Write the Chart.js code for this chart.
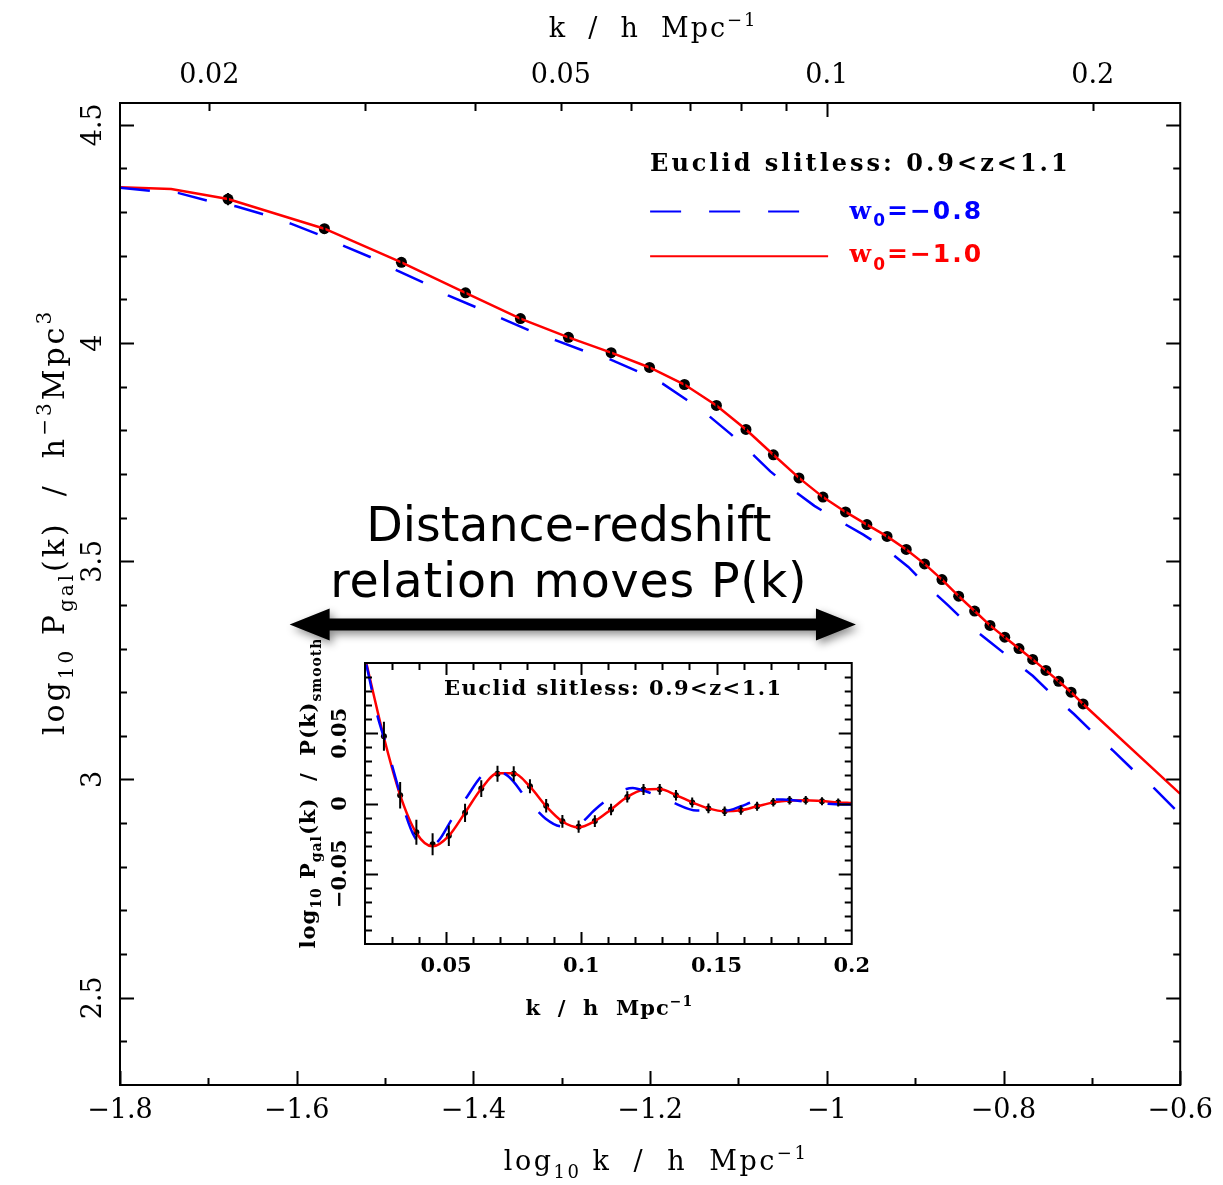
<!DOCTYPE html>
<html>
<head>
<meta charset="utf-8">
<script src="https://cdn.jsdelivr.net/npm/chart.js@4.4.1/dist/chart.umd.min.js"></script>
<style>
  html, body { margin: 0; padding: 0; background: #fff; }
  #wrap { position: relative; width: 1223px; height: 1185px; }
  #main { position: absolute; left: 0; top: 0; }
  #inset { position: absolute; left: 280px; top: 640px; }
</style>
</head>
<body>
<div id="wrap">
  <canvas id="main" width="1223" height="1185"></canvas>
  <canvas id="inset" width="600" height="400"></canvas>
</div>
<script>
// ------------------ DATA: main panel ------------------
const logKRange = [-1.8, -0.6];
const logPRange = [2.3, 4.55];
const bottomTickLogs = [-1.8, -1.6, -1.4, -1.2, -1, -0.8, -0.6];
const bottomMinorLogs = [-1.7, -1.5, -1.3, -1.1, -0.9, -0.7];
const topTickKs = [0.02, 0.05, 0.1, 0.2];
const topMinorKs = [0.03, 0.04, 0.06, 0.07, 0.08, 0.09];
const leftTickVals = [2.5, 3, 3.5, 4, 4.5];

// measured band powers (k in h/Mpc, log10 P)
const obsK = [0.021, 0.027, 0.033, 0.039, 0.045, 0.051, 0.057, 0.063, 0.069, 0.075,
  0.081, 0.087, 0.093, 0.099, 0.105, 0.111, 0.117, 0.123, 0.129, 0.135,
  0.141, 0.147, 0.153, 0.159, 0.165, 0.171, 0.177, 0.183, 0.189, 0.195];
const obsLogP = [4.330, 4.262, 4.185, 4.115, 4.056, 4.013, 3.978, 3.944, 3.905, 3.857,
  3.802, 3.744, 3.691, 3.647, 3.613, 3.584, 3.557, 3.527, 3.494, 3.458,
  3.420, 3.386, 3.353, 3.326, 3.300, 3.275, 3.250, 3.225, 3.200, 3.173];
const obsErr = [0.014, 0.010, 0.008, 0.007, 0.006, 0.006, 0.005, 0.005, 0.005, 0.005,
  0.004, 0.004, 0.004, 0.004, 0.004, 0.004, 0.003, 0.003, 0.003, 0.003,
  0.003, 0.003, 0.003, 0.003, 0.003, 0.003, 0.003, 0.003, 0.003, 0.003];

// w0 = -1.0 model (red)
const redK = [0.01585, 0.01811, 0.021, 0.027, 0.033, 0.039, 0.045, 0.051, 0.057, 0.063, 0.069, 0.075,
  0.081, 0.087, 0.093, 0.099, 0.105, 0.111, 0.117, 0.123, 0.129, 0.135,
  0.141, 0.147, 0.153, 0.159, 0.165, 0.171, 0.177, 0.183, 0.189, 0.195, 0.2512];
const redLogP = [4.357, 4.353, 4.330, 4.262, 4.185, 4.115, 4.056, 4.013, 3.978, 3.944, 3.905, 3.857,
  3.802, 3.744, 3.691, 3.647, 3.613, 3.584, 3.557, 3.527, 3.494, 3.458,
  3.420, 3.386, 3.353, 3.326, 3.300, 3.275, 3.250, 3.225, 3.200, 3.173, 2.967];

// w0 = -0.8 model (blue dashed)
const blueK = [0.01585, 0.01714, 0.01843, 0.01993, 0.02148, 0.02310, 0.02478, 0.02666, 0.02852, 0.03059,
  0.03265, 0.03501, 0.03726, 0.04009, 0.04290, 0.04603, 0.04937, 0.05297, 0.05694, 0.06108,
  0.06519, 0.06938, 0.07345, 0.07780, 0.08193, 0.08631, 0.09120, 0.09681, 0.10278, 0.10998,
  0.11678, 0.12367, 0.12990, 0.13719, 0.14415, 0.15301, 0.16159, 0.17113, 0.17977, 0.19040,
  0.19993, 0.21116, 0.22185, 0.23496, 0.25119];
const blueLogP = [4.356, 4.349, 4.344, 4.326, 4.313, 4.294, 4.273, 4.248, 4.221, 4.195,
  4.166, 4.138, 4.109, 4.082, 4.056, 4.029, 4.006, 3.983, 3.962, 3.935,
  3.907, 3.870, 3.834, 3.792, 3.750, 3.706, 3.666, 3.627, 3.595, 3.561,
  3.527, 3.487, 3.443, 3.399, 3.357, 3.315, 3.277, 3.237, 3.195, 3.150,
  3.108, 3.065, 3.023, 2.979, 2.920];

// annotation arrow (log10 k, log10 P)
const arrowLogK = [-1.608, -0.967];
const arrowLogP = 3.355;

// ------------------ DATA: inset (BAO wiggles) ------------------
const insetKRange = [0.02, 0.2];
const insetRRange = [-0.1, 0.1];
const insetXTicks = [0.05, 0.1, 0.15, 0.2];
const insetYTicks = [-0.05, 0, 0.05];

const wigK = [0.027, 0.033, 0.039, 0.045, 0.051, 0.057, 0.063, 0.069, 0.075,
  0.081, 0.087, 0.093, 0.099, 0.105, 0.111, 0.117, 0.123, 0.129, 0.135,
  0.141, 0.147, 0.153, 0.159, 0.165, 0.171, 0.177, 0.183, 0.189, 0.195];
const wigR = [0.0479, 0.0059, -0.0205, -0.0290, -0.0229, -0.0066, 0.0106, 0.0212, 0.0212,
  0.0123, -0.0016, -0.0127, -0.0165, -0.0125, -0.0042, 0.0047, 0.0099, 0.0101, 0.0059,
  0.0007, -0.0035, -0.0055, -0.0047, -0.0019, 0.0009, 0.0023, 0.0023, 0.0016, 0.0007];
const wigErr = [0.0103, 0.0094, 0.0089, 0.0079, 0.0073, 0.0065, 0.0060, 0.0057, 0.0054,
  0.0050, 0.0048, 0.0046, 0.0044, 0.0042, 0.0041, 0.0040, 0.0039, 0.0038, 0.0037,
  0.0036, 0.0035, 0.0034, 0.0033, 0.0032, 0.0031, 0.0030, 0.0030, 0.0029, 0.0028];

const wigRedK = [0.02, 0.027, 0.033, 0.039, 0.045, 0.051, 0.057, 0.063, 0.069, 0.075,
  0.081, 0.087, 0.093, 0.099, 0.105, 0.111, 0.117, 0.123, 0.129, 0.135,
  0.141, 0.147, 0.153, 0.159, 0.165, 0.171, 0.177, 0.183, 0.189, 0.195, 0.2];
const wigRedR = [0.104, 0.047, 0.006, -0.021, -0.0305, -0.023, -0.0065, 0.0105, 0.0215, 0.0215,
  0.012, -0.002, -0.0128, -0.017, -0.0125, -0.0042, 0.0047, 0.0098, 0.0103, 0.006,
  0.0008, -0.0035, -0.0056, -0.0048, -0.002, 0.0008, 0.0022, 0.0024, 0.0017, 0.0008, 0.0003];

const wigBlueK = [0.0205, 0.0226, 0.0244, 0.0278, 0.0293, 0.0322, 0.0344, 0.0384, 0.0425, 0.047,
  0.0523, 0.0578, 0.0633, 0.068, 0.0732, 0.0798, 0.0867, 0.0926, 0.0962, 0.1006,
  0.1047, 0.113, 0.119, 0.124, 0.133, 0.1427, 0.1536, 0.159, 0.164, 0.1745,
  0.1858, 0.1967, 0.2];
const wigBlueR = [0.099, 0.080, 0.064, 0.042, 0.032, 0.012, -0.004, -0.024, -0.031, -0.027,
  -0.0106, 0.005, 0.0198, 0.0234, 0.019, 0.0035, -0.0106, -0.0163, -0.0165, -0.0127,
  -0.005, 0.0071, 0.011, 0.0085, 0.0014, -0.005, -0.005, -0.002, 0.0014, 0.0028,
  0.0007, -0.0007, -0.0007];

// ------------------ HELPERS ------------------
const SERIF = 'DejaVu Serif';
const SANS = 'DejaVu Sans';
const RED = '#ff0000';
const BLUE = '#0000ff';

function minus(v) {
    return String(Math.round(v * 100) / 100).replace('-', '\u2212');
}

function range(a, b, step, skip) {
    const out = [];
    for (let v = a; v <= b + 1e-9; v += step) {
        const r = Math.round(v * 1000) / 1000;
        if (!skip || !skip(r)) out.push(r);
    }
    return out;
}

// text with sub/superscripts: parts = [text, 'sub'|'sup'|'', family, weight]
function richText(ctx, parts, x, y, o) {
    const size = o.size, weight = o.weight || 'normal', family = o.family || SERIF;
    ctx.save();
    ctx.translate(x, y);
    if (o.rotate) ctx.rotate(o.rotate);
    ctx.fillStyle = o.color || '#000';
    ctx.textAlign = 'left';
    ctx.textBaseline = 'alphabetic';
    if ('letterSpacing' in ctx) ctx.letterSpacing = (o.spacing || 0) + 'px';
    const fontOf = p => {
        const sz = p[1] ? Math.round(size * 0.68) : size;
        return `${p[3] || weight} ${sz}px "${p[2] || family}"`;
    };
    let w = 0;
    parts.forEach(p => { ctx.font = fontOf(p); w += ctx.measureText(p[0]).width; });
    let cx = o.align === 'left' ? 0 : o.align === 'right' ? -w : -w / 2;
    parts.forEach(p => {
        ctx.font = fontOf(p);
        const dy = p[1] === 'sub' ? size * 0.3 : p[1] === 'sup' ? -size * 0.42 : 0;
        ctx.fillText(p[0], cx, dy);
        cx += ctx.measureText(p[0]).width;
    });
    ctx.restore();
}

function drawTicks(ctx, scale, area, side, values, len) {
    ctx.beginPath();
    values.forEach(v => {
        const p = Math.round(scale.getPixelForValue(v)) + 0.5;
        if (side === 'bottom') { ctx.moveTo(p, area.bottom); ctx.lineTo(p, area.bottom - len); }
        else if (side === 'top') { ctx.moveTo(p, area.top); ctx.lineTo(p, area.top + len); }
        else if (side === 'left') { ctx.moveTo(area.left, p); ctx.lineTo(area.left + len, p); }
        else { ctx.moveTo(area.right, p); ctx.lineTo(area.right - len, p); }
    });
    ctx.stroke();
}

function drawErrorBars(chart, dsIndex, errs, width) {
    const ctx = chart.ctx;
    const yScale = chart.scales.y;
    const ds = chart.data.datasets[dsIndex];
    ctx.save();
    ctx.strokeStyle = '#000';
    ctx.lineWidth = width;
    ctx.beginPath();
    ds.data.forEach((d, i) => {
        const px = chart.getDatasetMeta(dsIndex).data[i].x;
        ctx.moveTo(px, yScale.getPixelForValue(d.y - errs[i]));
        ctx.lineTo(px, yScale.getPixelForValue(d.y + errs[i]));
    });
    ctx.stroke();
    ctx.restore();
}

function axisFont(size, weight) {
    return { family: SERIF, size: size, weight: weight || 'normal' };
}

function pts(xs, ys) {
    return xs.map((x, i) => ({ x: x, y: ys[i] }));
}

// ------------------ MAIN PANEL DECORATIONS ------------------
const mainDecor = {
    id: 'mainDecor',
    afterDatasetsDraw(chart) {
        drawErrorBars(chart, 2, obsErr, 2);
    },
    afterDraw(chart) {
        const ctx = chart.ctx;
        const a = chart.chartArea;
        const sx = chart.scales.x, sx2 = chart.scales.x2, sy = chart.scales.y;

        // frame + inward ticks
        ctx.save();
        ctx.strokeStyle = '#000';
        ctx.lineWidth = 2;
        ctx.strokeRect(a.left, a.top, a.right - a.left, a.bottom - a.top);
        const kOf = v => Math.pow(10, v);
        drawTicks(ctx, sx, a, 'bottom', bottomTickLogs.map(kOf), 14);
        drawTicks(ctx, sx, a, 'bottom', bottomMinorLogs.map(kOf), 7);
        drawTicks(ctx, sx2, a, 'top', [0.1], 14);
        drawTicks(ctx, sx2, a, 'top', topTickKs.filter(k => k !== 0.1).concat(topMinorKs), 8);
        const yMinor = range(2.4, 4.5, 0.1, v => Math.abs(v * 2 - Math.round(v * 2)) < 1e-6);
        ['left', 'right'].forEach(side => {
            drawTicks(ctx, sy, a, side, leftTickVals, 14);
            drawTicks(ctx, sy, a, side, yMinor, 7);
        });
        ctx.restore();

        // axis titles
        const cx = (a.left + a.right) / 2;
        richText(ctx, [['k  /  h  Mpc', ''], ['\u22121', 'sup']], cx + 3, 37, { size: 27, spacing: 2 });
        richText(ctx, [['log', ''], ['10', 'sub'], [' k  /  h  Mpc', ''], ['\u22121', 'sup']],
            cx + 6, 1170, { size: 27, spacing: 2.5 });
        richText(ctx, [['log', ''], ['10', 'sub'], [' P', ''], ['gal', 'sub'], ['(k)  /  h', ''],
            ['\u22123', 'sup'], ['Mpc', ''], ['3', 'sup']],
            64, 522, { size: 30, spacing: 3, rotate: -Math.PI / 2 });

        // legend
        const lx = a.left + (a.right - a.left) / 2;
        richText(ctx, [['Euclid slitless: 0.9<z<1.1', '']], lx, a.top + 67.5,
            { size: 24, weight: 'bold', align: 'left', spacing: 3 });
        ctx.save();
        ctx.lineWidth = 2;
        ctx.strokeStyle = BLUE;
        ctx.setLineDash([31, 28]);
        ctx.beginPath();
        ctx.moveTo(lx, a.top + 108.5);
        ctx.lineTo(lx + 150, a.top + 108.5);
        ctx.stroke();
        ctx.setLineDash([]);
        ctx.strokeStyle = RED;
        ctx.beginPath();
        ctx.moveTo(lx, a.top + 153.3);
        ctx.lineTo(lx + 178, a.top + 153.3);
        ctx.stroke();
        ctx.restore();
        richText(ctx, [['w', '', SERIF, 'bold'], ['0', 'sub', SANS, 'bold'], ['=\u22120.8', '', SANS, 'bold']],
            lx + 199.5, a.top + 115.5, { size: 25, align: 'left', color: BLUE, spacing: 2 });
        richText(ctx, [['w', '', SERIF, 'bold'], ['0', 'sub', SANS, 'bold'], ['=\u22121.0', '', SANS, 'bold']],
            lx + 199.5, a.top + 159, { size: 25, align: 'left', color: RED, spacing: 2 });

        // double arrow + caption
        const x1 = sx.getPixelForValue(Math.pow(10, arrowLogK[0]));
        const x2 = sx.getPixelForValue(Math.pow(10, arrowLogK[1]));
        const ay = sy.getPixelForValue(arrowLogP);
        const hl = 40, hh = 16, st = 6;
        ctx.save();
        ctx.shadowColor = 'rgba(0,0,0,0.45)';
        ctx.shadowBlur = 8;
        ctx.shadowOffsetX = 3;
        ctx.shadowOffsetY = 4;
        ctx.fillStyle = '#000';
        ctx.beginPath();
        ctx.moveTo(x1, ay);
        ctx.lineTo(x1 + hl, ay - hh);
        ctx.lineTo(x1 + hl, ay - st);
        ctx.lineTo(x2 - hl, ay - st);
        ctx.lineTo(x2 - hl, ay - hh);
        ctx.lineTo(x2, ay);
        ctx.lineTo(x2 - hl, ay + hh);
        ctx.lineTo(x2 - hl, ay + st);
        ctx.lineTo(x1 + hl, ay + st);
        ctx.lineTo(x1 + hl, ay + hh);
        ctx.closePath();
        ctx.fill();
        ctx.restore();
        const tx = (x1 + x2) / 2 - 4;
        richText(ctx, [['Distance-redshift', '']], tx, ay - 84, { size: 47.5, family: SANS });
        richText(ctx, [['relation moves P(k)', '']], tx, ay - 28, { size: 47.5, family: SANS, spacing: 0.8 });
    }
};

new Chart(document.getElementById('main'), {
    type: 'scatter',
    data: {
        datasets: [
            {
                label: 'w0=-0.8',
                data: pts(blueK, blueLogP),
                showLine: true,
                borderColor: BLUE,
                borderWidth: 2.5,
                borderDash: [30, 28],
                pointRadius: 0,
                tension: 0
            },
            {
                label: 'w0=-1.0',
                data: pts(redK, redLogP),
                showLine: true,
                borderColor: RED,
                borderWidth: 2.5,
                pointRadius: 0,
                tension: 0
            },
            {
                label: 'Euclid slitless',
                data: pts(obsK, obsLogP),
                showLine: false,
                pointRadius: 5.5,
                pointBackgroundColor: '#000',
                pointBorderWidth: 0
            }
        ]
    },
    options: {
        responsive: false,
        animation: false,
        events: [],
        layout: { padding: { right: 40 } },
        plugins: { legend: { display: false }, tooltip: { enabled: false } },
        scales: {
            x: {
                type: 'logarithmic',
                position: 'bottom',
                min: Math.pow(10, logKRange[0]),
                max: Math.pow(10, logKRange[1]),
                afterBuildTicks: s => { s.ticks = bottomTickLogs.map(v => ({ value: Math.pow(10, v) })); },
                afterFit: s => { s.height = 100; },
                ticks: {
                    autoSkip: false, minRotation: 0, maxRotation: 0, padding: 10,
                    color: '#000', font: axisFont(27),
                    callback: v => minus(Math.log10(v))
                },
                grid: { display: false, drawTicks: false },
                border: { display: false }
            },
            x2: {
                type: 'logarithmic',
                position: 'top',
                min: Math.pow(10, logKRange[0]),
                max: Math.pow(10, logKRange[1]),
                afterBuildTicks: s => { s.ticks = topTickKs.map(v => ({ value: v })); },
                afterFit: s => { s.height = 103; },
                ticks: {
                    autoSkip: false, minRotation: 0, maxRotation: 0, padding: 11,
                    color: '#000', font: axisFont(27),
                    callback: v => String(v)
                },
                grid: { display: false, drawTicks: false },
                border: { display: false }
            },
            y: {
                type: 'linear',
                min: logPRange[0],
                max: logPRange[1],
                afterBuildTicks: s => { s.ticks = leftTickVals.map(v => ({ value: v })); },
                afterFit: s => { s.width = 120; },
                ticks: {
                    autoSkip: false, minRotation: 90, maxRotation: 90, padding: 5,
                    crossAlign: 'center', color: '#000', font: axisFont(27),
                    callback: v => String(v)
                },
                grid: { display: false, drawTicks: false },
                border: { display: false }
            }
        }
    },
    plugins: [mainDecor]
});

// ------------------ INSET ------------------
const insetDecor = {
    id: 'insetDecor',
    beforeDraw(chart) {
        const a = chart.chartArea;
        chart.ctx.save();
        chart.ctx.fillStyle = '#fff';
        chart.ctx.fillRect(a.left, a.top, a.right - a.left, a.bottom - a.top);
        chart.ctx.restore();
    },
    afterDatasetsDraw(chart) {
        drawErrorBars(chart, 2, wigErr, 2);
    },
    afterDraw(chart) {
        const ctx = chart.ctx;
        const a = chart.chartArea;
        const sx = chart.scales.x, sy = chart.scales.y;
        ctx.save();
        ctx.strokeStyle = '#000';
        ctx.lineWidth = 2;
        ctx.strokeRect(a.left, a.top, a.right - a.left, a.bottom - a.top);
        const isMajor = v => Math.abs(v * 20 - Math.round(v * 20)) < 1e-6;
        const xMinor = range(0.03, 0.19, 0.01, isMajor);
        const yMinor = range(-0.09, 0.09, 0.01, isMajor);
        ['bottom', 'top'].forEach(side => {
            drawTicks(ctx, sx, a, side, [0.05, 0.1, 0.15], 12);
            drawTicks(ctx, sx, a, side, xMinor, 7);
        });
        ['left', 'right'].forEach(side => {
            drawTicks(ctx, sy, a, side, insetYTicks, 13);
            drawTicks(ctx, sy, a, side, yMinor, 7);
        });
        ctx.restore();

        const cx = (a.left + a.right) / 2;
        richText(ctx, [['Euclid slitless: 0.9<z<1.1', '']], cx + 5, a.top + 32,
            { size: 21, weight: 'bold', spacing: 1.5 });
        richText(ctx, [['k  /  h  Mpc', ''], ['\u22121', 'sup']], cx + 1, 375,
            { size: 21, weight: 'bold', spacing: 1 });
        richText(ctx, [['log', ''], ['10', 'sub'], [' P', ''], ['gal', 'sub'], ['(k)  /  P(k)', ''], ['smooth', 'sub']],
            35, 153, { size: 21, weight: 'bold', spacing: 1, rotate: -Math.PI / 2 });
    }
};

new Chart(document.getElementById('inset'), {
    type: 'scatter',
    data: {
        datasets: [
            {
                data: pts(wigBlueK, wigBlueR),
                showLine: true,
                borderColor: BLUE,
                borderWidth: 2.5,
                borderDash: [26, 26],
                pointRadius: 0,
                cubicInterpolationMode: 'monotone'
            },
            {
                data: pts(wigRedK, wigRedR),
                showLine: true,
                borderColor: RED,
                borderWidth: 2.5,
                pointRadius: 0,
                cubicInterpolationMode: 'monotone'
            },
            {
                data: pts(wigK, wigR),
                showLine: false,
                pointRadius: 3,
                pointBackgroundColor: '#000',
                pointBorderWidth: 0
            }
        ]
    },
    options: {
        responsive: false,
        animation: false,
        events: [],
        layout: { padding: { top: 23, right: 23 } },
        plugins: { legend: { display: false }, tooltip: { enabled: false } },
        scales: {
            x: {
                type: 'linear',
                min: insetKRange[0],
                max: insetKRange[1],
                afterBuildTicks: s => { s.ticks = insetXTicks.map(v => ({ value: v })); },
                afterFit: s => { s.height = 96; },
                ticks: {
                    autoSkip: false, minRotation: 0, maxRotation: 0, padding: 10,
                    color: '#000', font: axisFont(21, 'bold'),
                    callback: v => String(v)
                },
                grid: { display: false, drawTicks: false },
                border: { display: false }
            },
            y: {
                type: 'linear',
                min: insetRRange[0],
                max: insetRRange[1],
                afterBuildTicks: s => { s.ticks = insetYTicks.map(v => ({ value: v })); },
                afterFit: s => { s.width = 85; },
                ticks: {
                    autoSkip: false, minRotation: 90, maxRotation: 90, padding: -10,
                    crossAlign: 'center', color: '#000', font: axisFont(21, 'bold'),
                    callback: v => minus(v)
                },
                grid: { display: false, drawTicks: false },
                border: { display: false }
            }
        }
    },
    plugins: [insetDecor]
});
</script>
</body>
</html>
